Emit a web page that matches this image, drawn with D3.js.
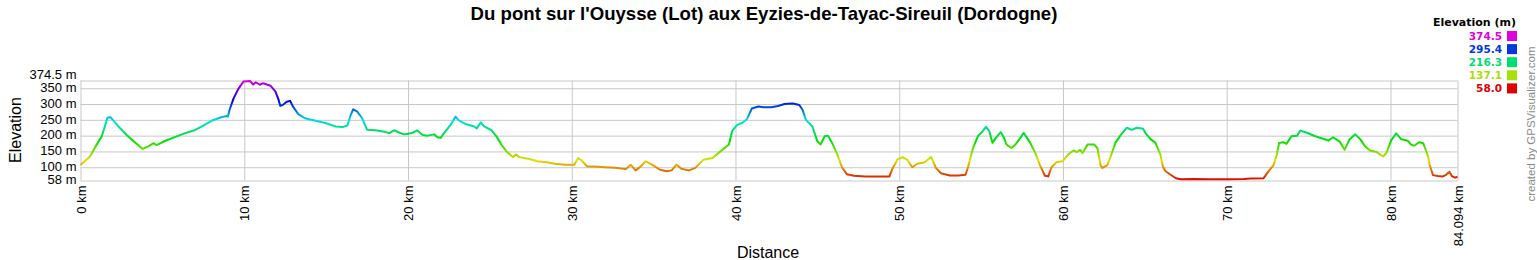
<!DOCTYPE html>
<html>
<head>
<meta charset="utf-8">
<script src="https://cdn.jsdelivr.net/npm/d3@7"></script>
<style>
  body { margin: 0; background: #fff; }
  svg { display: block; }
</style>
</head>
<body>
<div id="chart"></div>
<script>
var WIDTH = 1537;
var HEIGHT = 260;

var TITLE = "Du pont sur l'Ouysse (Lot) aux Eyzies-de-Tayac-Sireuil (Dordogne)";

// profile: distance (km) and elevation (m)
var distKm = [
  0, 0.27, 0.57, 0.88, 1.3, 1.65, 1.84, 2.3, 2.8, 3.3, 3.8, 4.15, 4.45, 4.65, 5.15, 5.8, 6.4, 7.0, 7.5, 8.0,
  8.6, 8.95, 9.0, 9.1, 9.35, 9.65, 9.95, 10.35, 10.55, 10.7, 10.95, 11.15, 11.6, 11.9, 12.1, 12.2, 12.35, 12.6, 12.8, 13.0,
  13.3, 13.7, 14.35, 14.95, 15.6, 16.0, 16.3, 16.5, 16.65, 16.9, 17.2, 17.5, 18.0, 18.5, 18.85, 19.15, 19.45, 19.75, 20.0, 20.25,
  20.55, 20.9, 21.2, 21.6, 21.8, 22.0, 22.2, 22.6, 22.9, 23.1, 23.5, 24.05, 24.2, 24.45, 24.65, 25.1, 25.4, 25.7, 26.0, 26.4,
  26.6, 26.8, 27.4, 27.9, 28.5, 29.0, 29.6, 30.15, 30.4, 30.65, 30.95, 31.35, 32.05, 32.7, 33.3, 33.6, 33.9, 34.2, 34.5, 34.9,
  35.4, 35.8, 36.1, 36.4, 36.7, 37.15, 37.55, 38.05, 38.6, 39.1, 39.6, 39.8, 40.1, 40.4, 40.7, 41.0, 41.4, 41.7, 42.2, 42.6,
  43.0, 43.5, 43.9, 44.1, 44.3, 44.7, 45.0, 45.2, 45.45, 45.65, 45.9, 46.2, 46.5, 46.8, 47.25, 47.95, 48.8, 49.4, 49.6, 49.9,
  50.2, 50.5, 50.8, 51.1, 51.55, 51.95, 52.25, 52.55, 53.1, 53.6, 54.05, 54.2, 54.5, 54.8, 55.05, 55.3, 55.5, 55.7, 55.9, 56.2,
  56.4, 56.55, 56.85, 57.1, 57.4, 57.6, 58.0, 58.3, 58.6, 58.9, 59.1, 59.3, 59.6, 60.0, 60.35, 60.65, 60.85, 61.05, 61.2, 61.5,
  61.9, 62.1, 62.3, 62.4, 62.7, 62.9, 63.2, 63.5, 63.9, 64.2, 64.5, 64.9, 65.05, 65.35, 65.65, 65.95, 66.1, 66.25, 66.55, 66.9,
  67.2, 68.0, 69.0, 70.0, 71.05, 71.45, 72.25, 72.55, 72.85, 73.05, 73.2, 73.45, 73.65, 73.95, 74.3, 74.5, 74.9, 75.4, 75.9, 76.2,
  76.5, 76.9, 77.2, 77.5, 77.85, 78.15, 78.45, 78.75, 79.15, 79.55, 79.75, 80.05, 80.35, 80.65, 81.05, 81.25, 81.45, 81.75, 82.0, 82.3,
  82.4, 82.6, 82.9, 83.2, 83.4, 83.6, 83.75, 83.95, 84.094
];
var elevM = [
  108, 120, 133, 162, 198, 257, 258, 230, 203, 180, 158, 166, 176, 170, 183, 196, 208, 218, 232, 247,
  258, 262, 260, 281, 318, 349, 371, 373, 362, 369, 361, 366, 358, 340, 313, 294, 297, 307, 310, 290,
  268, 255, 247, 240, 229, 227, 232, 265, 283, 276, 255, 219, 217, 213, 208, 217, 210, 204, 206, 208,
  217, 202, 200, 204, 195, 193, 208, 234, 260, 248, 237, 229, 223, 242, 229, 217, 198, 172, 151, 132,
  140, 132, 126, 119, 116, 111, 108, 108, 129, 119, 102, 102, 100, 98, 94, 108, 90, 102, 119, 108,
  92, 87, 90, 108, 95, 90, 98, 124, 129, 151, 172, 215, 234, 240, 252, 286, 292, 290, 290, 294,
  300, 302, 297, 281, 250, 229, 182, 172, 198, 200, 177, 143, 100, 78, 73, 71, 71, 71, 97, 125,
  132, 123, 100, 111, 116, 132, 97, 81, 74, 74, 76, 100, 160, 198, 211, 228, 214, 177, 193, 211,
  193, 172, 161, 172, 193, 209, 177, 146, 106, 73, 71, 100, 116, 120, 142, 153, 148, 155, 145, 172,
  172, 161, 106, 98, 106, 132, 177, 200, 225, 218, 225, 222, 207, 189, 177, 140, 102, 88, 77, 65,
  62, 63, 62, 62, 63, 64, 65, 87, 106, 138, 177, 179, 174, 198, 200, 216, 209, 198, 190, 184,
  195, 181, 155, 188, 204, 189, 166, 153, 148, 134, 145, 186, 207, 189, 184, 172, 168, 179, 176, 134,
  106, 75, 72, 71, 76, 86, 72, 67, 70
];

var xTicks = [0, 10, 20, 30, 40, 50, 60, 70, 80, 84.094];
var yTicks = [58, 100, 150, 200, 250, 300, 350, 374.5];
var legendValues = [374.5, 295.4, 216.3, 137.1, 58.0];

var ELEV_MIN = 58, ELEV_MAX = 374.5;
var PLOT = {left: 80.5, right: 1457.5, top: 80.5, bottom: 180.5};

// GPS Visualizer style: hue goes red -> magenta with elevation
function elevColor(e) {
    let t = (e - ELEV_MIN) / (ELEV_MAX - ELEV_MIN);
    return d3.hsl(300 * t, 1, 0.44).formatHex();
}

function init() {
    SVG = d3.select("div#chart").append("svg")
        .attr("width", WIDTH)
        .attr("height", HEIGHT)
        .style("font-family", "'Liberation Sans', Arial, sans-serif");

    X = d3.scaleLinear().domain([0, 84.094]).range([PLOT.left, PLOT.right]);
    Y = d3.scaleLinear().domain([ELEV_MIN, ELEV_MAX]).range([PLOT.bottom, PLOT.top]);

    // title
    SVG.append("text")
        .attr("x", 764)
        .attr("y", 19.5)
        .attr("text-anchor", "middle")
        .style("font-size", "18.6px")
        .style("font-weight", "bold")
        .text(TITLE);

    // horizontal grid + labels
    let yAxis = SVG.append("g")
        .attr("transform", `translate(${PLOT.left},0)`)
        .call(d3.axisLeft(Y)
            .tickValues(yTicks)
            .tickSize(-(PLOT.right - PLOT.left))
            .tickPadding(4)
            .tickFormat(d => d + " m"));
    yAxis.select(".domain").remove();
    yAxis.selectAll(".tick line").attr("stroke", "#c8c8c8");
    yAxis.selectAll(".tick text")
        .attr("fill", "#000")
        .attr("dy", d => d === 374.5 ? "-0.15em" : "0.25em")
        .style("font-size", "13px")
        .style("font-family", "'Liberation Sans', Arial, sans-serif");

    // vertical grid + labels
    let xAxis = SVG.append("g")
        .attr("transform", `translate(0,${PLOT.bottom})`)
        .call(d3.axisBottom(X)
            .tickValues(xTicks)
            .tickSize(-(PLOT.bottom - PLOT.top))
            .tickFormat(d => d + " km"));
    xAxis.select(".domain").remove();
    xAxis.selectAll(".tick line").attr("stroke", "#c8c8c8");
    xAxis.selectAll(".tick text")
        .attr("fill", "#000")
        .attr("transform", "rotate(-90)")
        .attr("text-anchor", "end")
        .attr("x", -5)
        .attr("y", 0)
        .attr("dy", "0.36em")
        .style("font-size", "13px")
        .style("font-family", "'Liberation Sans', Arial, sans-serif");

    // axis titles
    SVG.append("text")
        .attr("transform", "translate(21,130) rotate(-90)")
        .attr("text-anchor", "middle")
        .style("font-size", "16px")
        .text("Elevation");

    SVG.append("text")
        .attr("x", 768)
        .attr("y", 258)
        .attr("text-anchor", "middle")
        .style("font-size", "16px")
        .text("Distance");

    // colour of the line follows elevation, so a vertical gradient does it
    let grad = SVG.append("defs").append("linearGradient")
        .attr("id", "elev-grad")
        .attr("gradientUnits", "userSpaceOnUse")
        .attr("x1", 0).attr("x2", 0)
        .attr("y1", Y(ELEV_MIN)).attr("y2", Y(ELEV_MAX));
    grad.selectAll("stop")
        .data(d3.range(0, 1.0001, 0.05))
        .enter().append("stop")
        .attr("offset", d => d)
        .attr("stop-color", d => elevColor(ELEV_MIN + d * (ELEV_MAX - ELEV_MIN)));

    let points = distKm.map((d, i) => [d, elevM[i]]);
    SVG.append("path")
        .datum(points)
        .attr("fill", "none")
        .attr("stroke", "url(#elev-grad)")
        .attr("stroke-width", 2)
        .attr("stroke-linejoin", "round")
        .attr("d", d3.line().x(d => X(d[0])).y(d => Y(d[1])));

    // legend
    let legend = SVG.append("g")
        .style("font-family", "'DejaVu Sans', Verdana, sans-serif")
        .style("font-weight", "bold");
    legend.append("text")
        .attr("x", 1516)
        .attr("y", 25.5)
        .attr("text-anchor", "end")
        .style("font-size", "11px")
        .text("Elevation (m)");
    let rows = legend.selectAll("g.row")
        .data(legendValues)
        .enter().append("g")
        .attr("class", "row")
        .attr("transform", (d, i) => `translate(0,${36 + i * 13.1})`);
    rows.append("text")
        .attr("x", 1502)
        .attr("y", 0)
        .attr("dy", "0.36em")
        .attr("text-anchor", "end")
        .attr("fill", d => elevColor(d))
        .style("font-size", "10.5px")
        .text(d => d.toFixed(1));
    rows.append("rect")
        .attr("x", 1507)
        .attr("y", -5)
        .attr("width", 10)
        .attr("height", 10)
        .attr("fill", d => elevColor(d));

    // credit
    SVG.append("text")
        .attr("transform", "translate(1535,124) rotate(-90)")
        .attr("text-anchor", "middle")
        .attr("fill", "#8a8a8a")
        .style("font-size", "11.5px")
        .text("created by GPSVisualizer.com");
}

init();
</script>
</body>
</html>
